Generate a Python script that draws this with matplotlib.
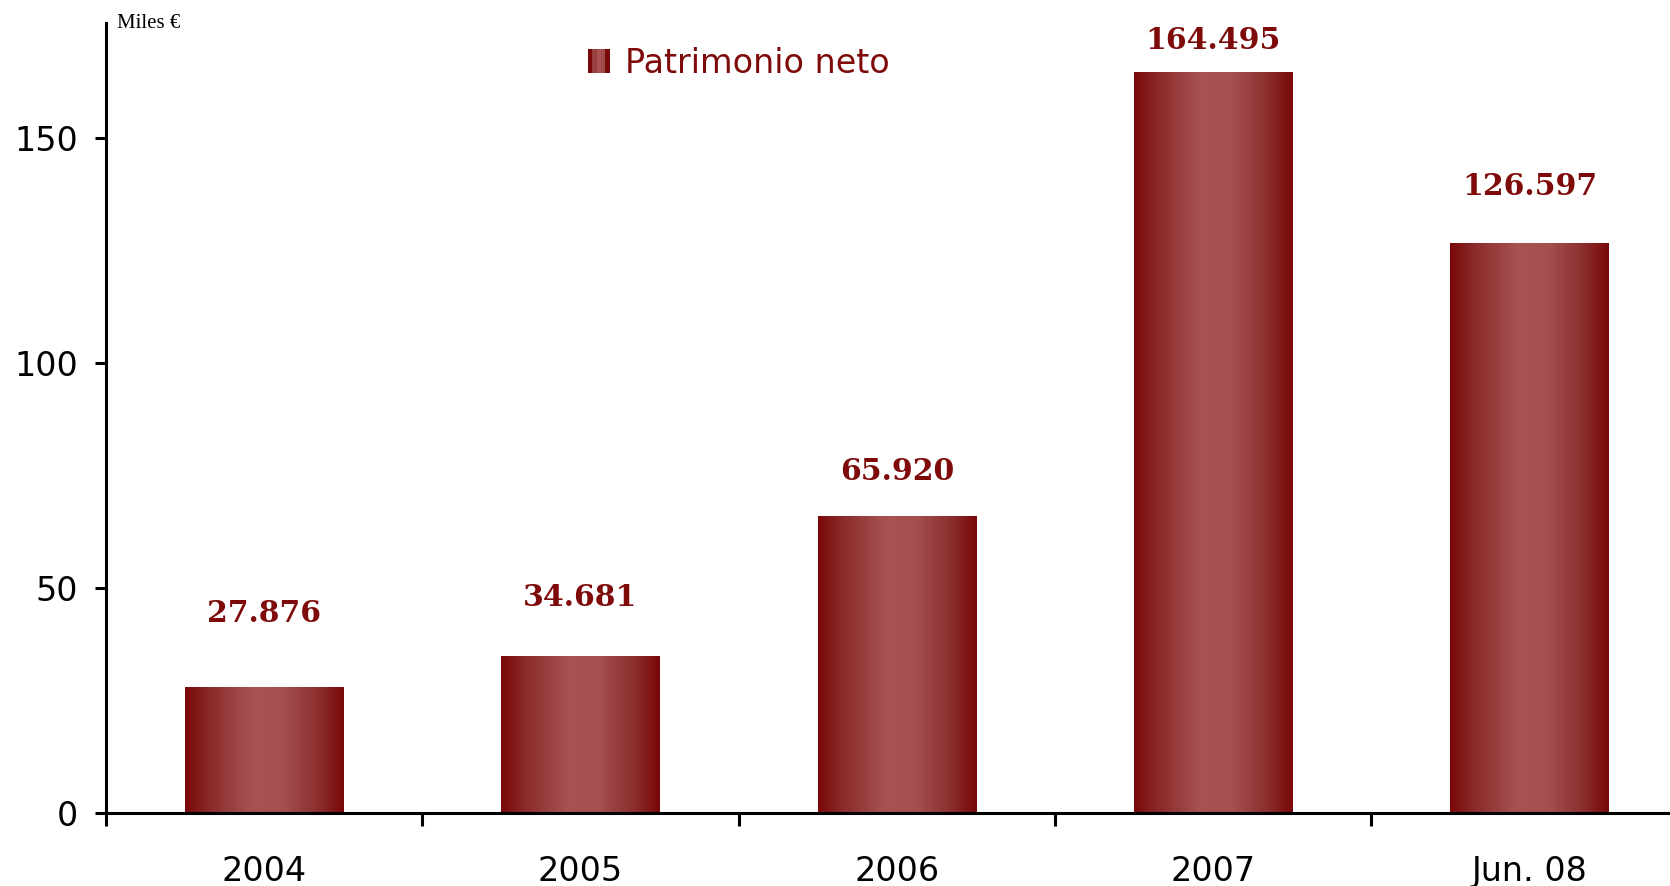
import numpy as np
import matplotlib
matplotlib.use("Agg")
import matplotlib.pyplot as plt
from matplotlib.colors import LinearSegmentedColormap
from matplotlib.patches import Rectangle, Patch
from matplotlib.legend_handler import HandlerBase

# datos
categorias = ["2004", "2005", "2006", "2007", "Jun. 08"]
valores = [27.876, 34.681, 65.920, 164.495, 126.597]
etiquetas = ["27.876", "34.681", "65.920", "164.495", "126.597"]
# separación de la etiqueta sobre la barra (unidades del eje)
sep_etiqueta = [16.5, 13.2, 10.1, 7.2, 12.7]

rojo_txt = "#7F0A0A"
grad = LinearSegmentedColormap.from_list(
    "grad", [(0.0, "#7A0808"), (0.15, "#8A2A2A"), (0.42, "#A85252"),
             (0.62, "#A54F4F"), (0.85, "#8A2C2C"), (1.0, "#7A0808")])

fig = plt.figure(figsize=(16.7, 8.86), dpi=100)
# el eje x sigue más allá del borde derecho, como en el original
ax = fig.add_axes([0.0635, 0.0824, 0.947, 0.8916])

x = np.arange(len(categorias))
ancho = 0.5
barras = ax.bar(x, valores, width=ancho, color="none", edgecolor="none")

# degradado horizontal en cada barra
g = np.linspace(0, 1, 256).reshape(1, -1)
for b in barras:
    x0, w, h = b.get_x(), b.get_width(), b.get_height()
    ax.imshow(g, cmap=grad, aspect="auto", extent=[x0, x0 + w, 0, h],
              interpolation="bilinear", zorder=2)

for xi, v, t, s in zip(x, valores, etiquetas, sep_etiqueta):
    ax.text(xi, v + s, t, ha="center", va="center", color=rojo_txt,
            fontsize=21.5, fontweight="bold", family="DejaVu Serif")

ax.set_xlim(-0.5, 4.5)
ax.set_ylim(0, 175.6)

for lado in ["top", "right"]:
    ax.spines[lado].set_visible(False)
for lado in ["left", "bottom"]:
    ax.spines[lado].set_linewidth(2.2)

ax.set_yticks([0, 50, 100, 150])
ax.tick_params(axis="y", length=8, width=2.2, pad=12, labelsize=24)
ax.set_xticks(np.arange(-0.5, 4.5, 1.0))
ax.set_xticklabels([])
ax.tick_params(axis="x", which="major", length=9, width=2.2)
ax.set_xticks(x, minor=True)
ax.set_xticklabels(categorias, minor=True)
ax.tick_params(axis="x", which="minor", length=0, pad=30, labelsize=24)

ax.text(0.007, 1.0, "Miles €", transform=ax.transAxes, ha="left", va="center",
        fontsize=15, family="Liberation Serif")


# cuadro de leyenda con franjas
class HandlerFranjas(HandlerBase):
    def create_artists(self, legend, orig, xd, yd, w, h, fontsize, trans):
        cols = ["#7A0808", "#9A4040", "#A85252", "#A04A4A", "#7A0808"]
        n = len(cols)
        return [Rectangle((xd + i * w / n, yd), w / n, h, facecolor=c,
                          edgecolor="none", transform=trans)
                for i, c in enumerate(cols)]


leg = ax.legend([Patch()], ["Patrimonio neto"], handler_map={Patch: HandlerFranjas()},
                loc="center", bbox_to_anchor=(0.400, 0.949), frameon=False,
                fontsize=24, handlelength=0.65, handleheight=0.72, handletextpad=0.45)
for t in leg.get_texts():
    t.set_color(rojo_txt)

fig.savefig("out.png", dpi=100)
